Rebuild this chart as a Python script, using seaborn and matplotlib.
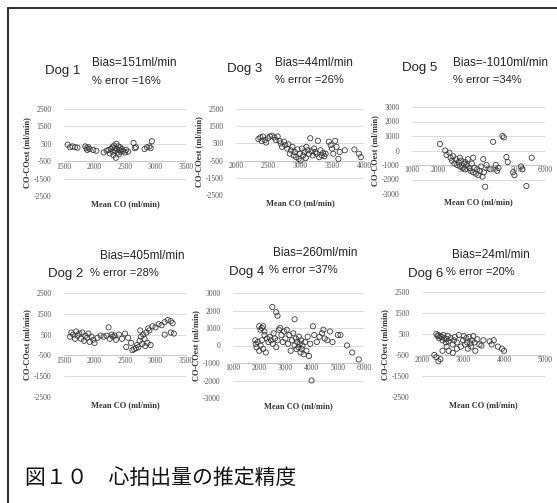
import matplotlib
matplotlib.use('Agg')
import matplotlib.pyplot as plt
import pandas as pd
import seaborn as sns
from matplotlib.lines import Line2D

sns.set_style('white')
plt.rcParams['font.family'] = ['Liberation Sans', 'DejaVu Sans']
plt.rcParams['axes.unicode_minus'] = False

W, H = 557, 503

# Bland-Altman data (mean CO, CO - COest), ml/min
dog1_mean = [1560, 1600, 1640, 1680, 1720, 1850, 1870, 1900, 1880, 1920, 1980, 2030, 2150, 2200,
             2230, 2250, 2270, 2290, 2300, 2310, 2320, 2330, 2340, 2350, 2360, 2370, 2380, 2390,
             2400, 2410, 2420, 2430, 2450, 2470, 2500, 2520, 2550, 2640, 2660, 2680, 2820, 2860,
             2900, 2940, 2920]
dog1_diff = [450, 300, 350, 300, 280, 350, 250, 300, 150, 200, 150, 100, 0, 100,
             150, -50, 200, 300, 50, -150, 400, 250, 100, -300, 500, 200, 0, 350,
             -100, 150, 300, 50, 200, 100, 0, 150, 50, 550, 250, 300, 200, 300,
             350, 650, 250]

dog3_mean = [2350, 2380, 2400, 2420, 2450, 2470, 2500, 2530, 2560, 2600, 2620, 2650, 2680, 2700,
             2720, 2750, 2770, 2800, 2820, 2840, 2860, 2880, 2900, 2920, 2940, 2960, 2980, 3000,
             3010, 3030, 3050, 3070, 3090, 3100, 3120, 3140, 3160, 3180, 3200, 3220, 3240, 3260,
             3280, 3300, 3320, 3340, 3360, 3380, 3400, 3450, 3480, 3500, 3520, 3550, 3570, 3600,
             3620, 3700, 3850, 3920, 3950]
dog3_diff = [750, 850, 650, 900, 700, 550, 800, 900, 950, 850, 700, 900, 650, 500,
             300, 600, 400, 200, 450, -100, 100, 300, -200, 0, -300, 150, -400, -100,
             -500, 200, -200, 0, -350, 300, 100, -100, 800, 50, -200, 200, 0, -100,
             650, -300, 100, -200, -50, -250, -100, 600, 400, 200, -100, 650, 300, -400,
             0, 100, 150, -100, -300]

dog5_mean = [2050, 2250, 2300, 2400, 2450, 2500, 2550, 2600, 2650, 2700, 2750, 2800, 2850, 2900,
             2950, 3000, 3050, 3100, 3150, 3200, 3250, 3300, 3350, 3400, 3450, 3500, 3550, 3600,
             3650, 3700, 3750, 3680, 3800, 3950, 4050, 4150, 4200, 4250, 4400, 4450, 4550, 4600,
             4800, 4850, 5100, 5150, 5300, 5500, 3300, 3000, 2800]
dog5_diff = [450, 0, -300, -150, -500, -700, -400, -900, -600, -1000, -800, -1100, -700, -1200,
             -900, -1300, -1000, -600, -1200, -1400, -900, -1500, -1200, -1600, -1300, -1700, -1400, -1100,
             -1800, -1500, -2500, -600, -1000, -1300, 600, -1000, -1400, -1200, 1000, 900, -450, -800,
             -1500, -1700, -1100, -1300, -2450, -500, -500, -800, -500]

dog2_mean = [1600, 1620, 1650, 1680, 1700, 1720, 1750, 1780, 1800, 1830, 1850, 1880, 1900, 1920,
             1950, 1980, 2000, 2050, 2100, 2150, 2200, 2230, 2250, 2280, 2300, 2330, 2350, 2400,
             2450, 2500, 2520, 2550, 2600, 2620, 2650, 2680, 2700, 2720, 2740, 2750, 2760, 2780,
             2800, 2820, 2830, 2850, 2870, 2880, 2900, 2920, 2950, 3000, 3050, 3100, 3150, 3200,
             3250, 3280, 3150, 3250, 3300]
dog2_diff = [400, 600, 500, 300, 650, 450, 550, 300, 600, 200, 450, 350, 550, 150,
             400, 250, 100, 350, 450, 400, 450, 850, 300, 500, 400, 450, 250, 500,
             300, 550, -100, 350, 100, -250, -200, -150, 0, -100, 200, 700, 400, 50,
             500, 300, -50, 600, 100, 800, 700, 0, 900, 850, 1000, 950, 1100, 1200,
             1150, 1050, 500, 600, 550]

dog4_mean = [1850, 1870, 1900, 1950, 2000, 2050, 2000, 2050, 2100, 2150, 2200, 2250, 2100, 2150,
             2200, 2300, 2350, 2400, 2450, 2500, 2520, 2550, 2600, 2650, 2700, 2650, 2700, 2750,
             2800, 2850, 2900, 2950, 3000, 3050, 3100, 3150, 3200, 3250, 3300, 3350, 3350, 3400,
             3420, 3450, 3500, 3520, 3550, 3580, 3600, 3620, 3650, 3700, 3750, 3800, 3850, 3900,
             3950, 4000, 4050, 4100, 4200, 4300, 4400, 4450, 4500, 4600, 4700, 4800, 5000, 5100,
             5350, 5550, 5800]
dog4_diff = [300, 100, -100, 200, -300, 0, 1100, 900, 1000, 1100, 800, -400, 300, -200,
             600, 400, 200, 500, 300, 2200, 100, 700, 400, 1900, 1700, -100, 300, 900,
             1000, 600, 200, 800, 400, 900, 100, 600, -300, 300, 700, 1500, 0, 400,
             -200, 200, -100, 500, 100, -400, 300, -200, 0, -500, 200, -300, 500, -600,
             100, -2000, 1100, 600, 200, 500, 700, 900, 400, 300, 800, 200, 600, 600,
             0, -400, -800]

dog6_mean = [2350, 2380, 2400, 2420, 2450, 2480, 2500, 2520, 2550, 2580, 2600, 2630, 2650, 2700,
             2750, 2780, 2800, 2850, 2900, 2950, 3000, 3020, 3050, 3080, 3100, 3120, 3150, 3180,
             3200, 3220, 3250, 3280, 3300, 3350, 3400, 3450, 3500, 3650, 3700, 3750, 3850, 3950,
             4000, 2300, 2350, 2400, 2450, 2650, 2750, 2850, 2500, 2600]
dog6_diff = [500, 400, 450, 300, 400, 350, 200, 450, 300, 100, 250, 400, 150, 300,
             0, 200, 350, 100, 450, -100, 200, 400, 0, 300, 100, -200, 350, 50,
             -100, 200, 400, 100, -300, 250, 0, -50, 200, 150, 0, 200, -100, -200,
             -300, -500, -600, -800, -700, -300, -400, -200, -300, -100]

dog_names = ['Dog 1', 'Dog 3', 'Dog 5', 'Dog 2', 'Dog 4', 'Dog 6']
bias_labels = ['Bias=151ml/min', 'Bias=44ml/min', 'Bias=-1010ml/min',
               'Bias=405ml/min', 'Bias=260ml/min', 'Bias=24ml/min']
error_labels = ['% error =16%', '% error =26%', '% error =34%',
                '% error =28%', '% error =37%', '% error =20%']

ticks_2500 = [2500, 1500, 500, -500, -1500, -2500]
ticks_3000 = [3000, 2000, 1000, 0, -1000, -2000, -3000]

panels = [
    dict(mean=dog1_mean, diff=dog1_diff, xt=[1500, 2000, 2500, 3000, 3500], yt=ticks_2500, cross=-500,
         box=(64, 109, 186, 196), dog=(45, 71), bias=(92, 63), err=(92, 81)),
    dict(mean=dog3_mean, diff=dog3_diff, xt=[2000, 2500, 3000, 3500, 4000], yt=ticks_2500, cross=-500,
         box=(236, 109, 364, 195), dog=(227, 69), bias=(275, 63), err=(275, 80)),
    dict(mean=dog5_mean, diff=dog5_diff, xt=[1000, 2000, 3000, 4000, 5000, 6000], yt=ticks_3000, cross=-1000,
         box=(412, 107, 545, 194), dog=(402, 68), bias=(453, 63), err=(453, 80)),
    dict(mean=dog2_mean, diff=dog2_diff, xt=[1500, 2000, 2500, 3000, 3500], yt=ticks_2500, cross=-500,
         box=(64, 293, 186, 397), dog=(48, 274), bias=(100, 256), err=(90, 273)),
    dict(mean=dog4_mean, diff=dog4_diff, xt=[1000, 2000, 3000, 4000, 5000, 6000], yt=ticks_3000, cross=-1000,
         box=(233, 293, 364, 398), dog=(229, 272), bias=(273, 253), err=(269, 270)),
    dict(mean=dog6_mean, diff=dog6_diff, xt=[2000, 3000, 4000, 5000], yt=ticks_2500, cross=-500,
         box=(422, 292, 545, 397), dog=(408, 274), bias=(452, 255), err=(446, 272)),
]

fig = plt.figure(figsize=(W / 100, H / 100), dpi=100)

for i, p in enumerate(panels):
    x0, y0, x1, y1 = p['box']
    ax = fig.add_axes([x0 / W, 1 - y1 / H, (x1 - x0) / W, (y1 - y0) / H])
    df = pd.DataFrame({'mean_co': p['mean'], 'diff_co': p['diff']})
    sns.scatterplot(data=df, x='mean_co', y='diff_co', ax=ax, marker='o', s=14,
                    facecolor='none', edgecolor='#3a3a3a', linewidth=0.6, zorder=3)
    ax.set_xlim(p['xt'][0], p['xt'][-1])
    ax.set_ylim(p['yt'][-1], p['yt'][0])
    ax.set_xticks(p['xt'])
    ax.set_yticks(p['yt'])
    ax.grid(axis='y', color='#d4d4d4', lw=0.6)
    ax.grid(axis='x', visible=False)
    ax.set_axisbelow(True)
    for s in ['top', 'right', 'left']:
        ax.spines[s].set_visible(False)
    ax.spines['bottom'].set_position(('data', p['cross']))
    ax.spines['bottom'].set_color('#c4c4c4')
    ax.spines['bottom'].set_linewidth(0.6)
    ax.tick_params(length=0, labelsize=5.5, colors='#555555')
    ax.tick_params(axis='x', pad=1)
    ax.tick_params(axis='y', pad=9)
    for lbl in ax.get_xticklabels() + ax.get_yticklabels():
        lbl.set_family('Liberation Serif')
    ax.set_xlabel('Mean CO (ml/min)', fontsize=6, family='Liberation Serif',
                  weight='bold', color='#333333')
    ax.set_ylabel('CO-COest (ml/min)', fontsize=6, family='Liberation Serif',
                  weight='bold', color='#333333')
    ax.xaxis.set_label_coords(0.5, -4 / (y1 - y0))
    ax.yaxis.set_label_coords(-33 / (x1 - x0), 0.5)

    fig.text(p['dog'][0] / W, 1 - p['dog'][1] / H, dog_names[i], fontsize=9.5,
             va='center', ha='left', color='#222222')
    fig.text(p['bias'][0] / W, 1 - p['bias'][1] / H, bias_labels[i], fontsize=8.5,
             va='center', ha='left', color='#222222')
    fig.text(p['err'][0] / W, 1 - p['err'][1] / H, error_labels[i], fontsize=8,
             va='center', ha='left', color='#222222')

# caption and the scan's frame
fig.text(25 / W, 1 - 478 / H, '図１０　心拍出量の推定精度', fontsize=15,
         family=['Noto Sans CJK JP', 'DejaVu Sans'], va='center', ha='left', color='#111111')
fig.add_artist(Line2D([8 / W, 1], [1 - 8 / H, 1 - 8 / H], color='#333333', lw=1.5))
fig.add_artist(Line2D([8 / W, 8 / W], [0, 1 - 8 / H], color='#333333', lw=1.5))

fig.savefig('out.png', dpi=100)
